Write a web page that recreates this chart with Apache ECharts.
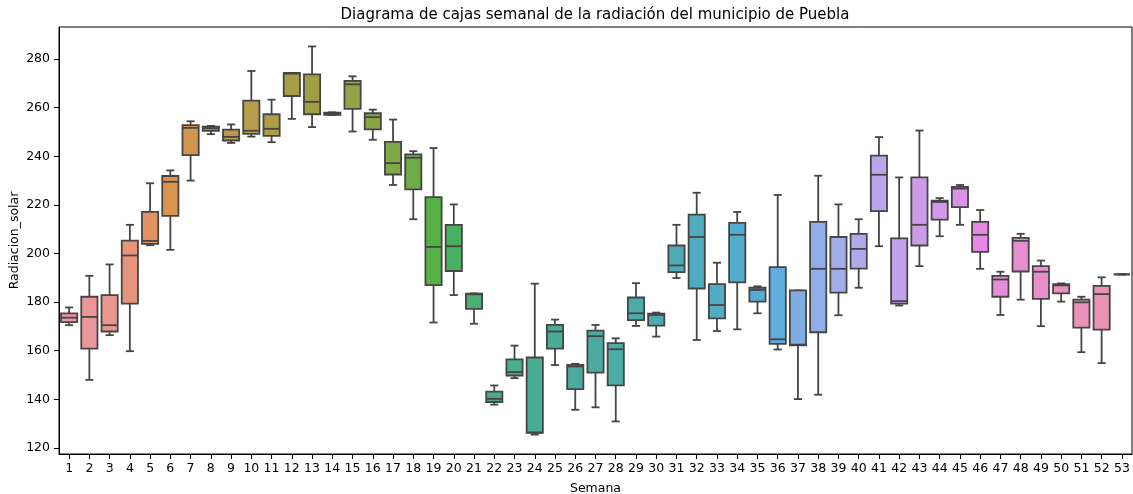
<!DOCTYPE html>
<html>
<head>
<meta charset="utf-8">
<script src="https://cdn.jsdelivr.net/npm/echarts@6/dist/echarts.min.js"></script>
<style>
html,body{margin:0;padding:0;background:#fff;}
#chart{width:1133px;height:494px;}
</style>
</head>
<body>
<div id="chart"></div>
<script>
// ---- Data ----
const weeks = ['1','2','3','4','5','6','7','8','9','10','11','12','13','14','15','16','17','18','19','20','21','22','23','24','25','26','27','28','29','30','31','32','33','34','35','36','37','38','39','40','41','42','43','44','45','46','47','48','49','50','51','52','53'];
const whiskerLow = [170.5,148.0,166.4,159.8,203.4,201.5,230.0,249.1,245.5,248.1,245.8,255.4,252.0,257.0,250.2,246.8,228.2,214.1,171.6,182.9,171.1,137.8,148.7,125.5,154.1,135.7,136.7,130.9,170.2,165.8,189.9,164.4,168.1,168.8,175.4,160.5,140.1,141.9,174.6,185.9,203.0,178.6,194.8,207.1,211.8,193.7,174.7,181.0,170.1,180.2,159.4,154.9,191.4];
const q1 = [171.8,160.9,167.9,179.4,204.0,215.5,240.5,250.5,246.5,249.2,248.4,264.8,257.3,257.1,259.5,251.1,232.5,226.4,187.0,192.8,177.2,138.9,149.8,126.2,160.9,144.2,151.0,145.7,172.6,170.3,192.3,185.6,173.3,188.1,180.2,162.8,162.2,167.6,183.9,193.8,217.4,179.4,203.3,213.9,219.1,200.7,182.2,192.6,181.3,183.6,169.5,168.7,191.4];
const median = [173.6,173.9,170.5,199.2,205.2,229.5,251.7,251.6,248.0,250.5,251.3,274.0,262.4,257.6,269.6,256.1,237.2,239.4,202.7,203.0,183.2,140.2,151.2,126.4,167.9,153.5,166.0,160.6,175.4,174.7,195.1,206.8,178.8,207.7,185.0,164.7,162.5,193.7,193.7,201.9,232.4,180.4,211.8,221.2,226.7,207.7,189.3,205.2,192.5,186.9,179.9,183.3,191.4];
const q3 = [175.4,182.2,182.9,205.3,217.1,231.9,252.8,252.2,251.0,262.9,257.3,274.3,273.7,258.0,271.0,257.7,245.9,240.8,223.2,211.8,183.5,143.2,156.4,157.2,170.6,154.2,168.3,163.1,181.9,175.2,203.3,216.0,187.4,212.6,185.9,194.4,184.8,213.0,206.8,208.1,240.3,206.2,231.3,221.7,227.4,213.0,190.8,206.4,194.8,187.4,181.0,186.7,191.4];
const whiskerHigh = [177.8,190.8,195.5,211.8,228.9,234.2,254.4,252.5,253.1,275.1,263.3,274.3,285.2,258.1,272.9,259.2,255.1,242.1,243.4,220.2,183.6,145.7,162.1,187.6,172.8,154.6,170.6,165.1,187.8,175.7,211.8,225.0,196.2,217.1,186.5,224.1,184.8,232.0,220.2,214.1,247.9,231.3,250.6,222.8,228.2,217.9,192.5,208.1,197.1,187.7,182.2,190.2,191.4];
const yTicks = [120,140,160,180,200,220,240,260,280];

// ---- seaborn-like husl palette (l=.7) desaturated by 0.75 ----
const M = [[3.2406,-1.5372,-0.4986],[-0.9689,1.8758,0.0415],[0.0557,-0.2040,1.0570]];
const refY=1.0, refU=0.19784, refV=0.46834, labE=0.008856, labK=903.3;
function maxChroma(L,H){
  const hr=H*Math.PI/180, sinH=Math.sin(hr), cosH=Math.cos(hr);
  const sub1=Math.pow(L+16,3)/1560896, sub2=sub1>labE?sub1:L/labK;
  let res=Infinity;
  for(const [m1,m2,m3] of M){
    const top=(0.99915*m1+1.05122*m2+1.14460*m3)*sub2;
    const rb=(0.86330*m3-0.17266*m2), lb=(0.12949*m3-0.38848*m1);
    const bottom=(rb*sinH+lb*cosH)*sub2;
    for(const t of [0,1]){
      const C=L*(top-1.05122*t)/(bottom+0.17266*sinH*t);
      if(C>0&&C<res)res=C;
    }
  }
  return res;
}
function huslToRgb(H,S,L){
  const C=maxChroma(L,H)/100*S;
  const hr=H*Math.PI/180, U=Math.cos(hr)*C, V=Math.sin(hr)*C;
  const vY = L>labK*labE ? refY*Math.pow((L+16)/116,3) : refY*L/labK;
  const vU=U/(13*L)+refU, vV=V/(13*L)+refV;
  const Y=vY*refY;
  const X=0-(9*Y*vU)/((vU-4)*vV-vU*vV);
  const Z=(9*Y-15*vV*Y-vV*X)/(3*vV);
  return M.map(r=>{
    let c=r[0]*X+r[1]*Y+r[2]*Z;
    c = c<=0.0031308 ? 12.92*c : 1.055*Math.pow(c,1/2.4)-0.055;
    return Math.min(1,Math.max(0,c));
  });
}
function rgbToHls(r,g,b){
  const mx=Math.max(r,g,b), mn=Math.min(r,g,b), l=(mx+mn)/2;
  if(mx===mn) return [0,l,0];
  const d=mx-mn, s = l<=0.5 ? d/(mx+mn) : d/(2-mx-mn);
  const rc=(mx-r)/d, gc=(mx-g)/d, bc=(mx-b)/d;
  let h = r===mx ? bc-gc : (g===mx ? 2+rc-bc : 4+gc-rc);
  h=((h/6)%1+1)%1;
  return [h,l,s];
}
function hlsToRgb(h,l,s){
  if(s===0) return [l,l,l];
  const m2 = l<=0.5 ? l*(1+s) : l+s-l*s, m1=2*l-m2;
  const v=(hue)=>{hue=((hue%1)+1)%1; if(hue<1/6) return m1+(m2-m1)*hue*6; if(hue<0.5) return m2; if(hue<2/3) return m1+(m2-m1)*(2/3-hue)*6; return m1;};
  return [v(h+1/3),v(h),v(h-1/3)];
}
const n = weeks.length;
const colorsRgb = [];
for(let i=0;i<n;i++){
  const h=((i/n)+0.01)%1*359;
  const rgb=huslToRgb(h,0.9*99,0.7*99);
  const [hh,ll,ss]=rgbToHls(...rgb);
  colorsRgb.push(hlsToRgb(hh,ll,ss*0.75));
}
const toHex=c=>'#'+c.map(v=>Math.round(v*255).toString(16).padStart(2,'0')).join('');
const boxColors = colorsRgb.map(toHex);
const lum = Math.min(...colorsRgb.map(c=>rgbToHls(...c)[1]))*0.6;
const GRAY = toHex([lum,lum,lum]);
const LW = 1.8;

const data = weeks.map((w,i)=>[i, whiskerLow[i], q1[i], median[i], q3[i], whiskerHigh[i]]);

const chart = echarts.init(document.getElementById('chart'), null, {renderer:'canvas'});
const FONT = 'DejaVu Sans';
chart.setOption({
  animation:false,
  backgroundColor:'#fff',
  textStyle:{fontFamily:FONT},
  grid:{left:59, right:1, top:27, bottom:40, show:true, borderColor:'#000', borderWidth:1, containLabel:false, outerBoundsMode:'none'},
  graphic:[{type:'text', x:595, y:15, style:{text:'Diagrama de cajas semanal de la radiación del municipio de Puebla', font:'15px "DejaVu Sans"', fill:'#000', textAlign:'center', textVerticalAlign:'middle'}}],
  xAxis:{
    type:'category', data:weeks, boundaryGap:true,
    name:'Semana', nameLocation:'middle', nameGap:28,
    nameTextStyle:{fontSize:12.5, color:'#000', fontFamily:FONT},
    axisLine:{show:true, lineStyle:{color:'#000', width:1}},
    axisTick:{show:true, alignWithLabel:true, length:5, lineStyle:{color:'#000'}},
    axisLabel:{interval:0, fontSize:12.5, color:'#000', margin:8, fontFamily:FONT},
    splitLine:{show:false}
  },
  yAxis:{
    type:'value', min:117.5, max:293.2,
    name:'Radiacion_solar', nameLocation:'middle', nameGap:38, nameMoveOverlap:false,
    nameTextStyle:{fontSize:12.5, color:'#000', fontFamily:FONT},
    axisLine:{show:true, lineStyle:{color:'#000', width:1}},
    axisTick:{show:true, length:5, lineStyle:{color:'#000'}, customValues:yTicks},
    axisLabel:{fontSize:12.5, color:'#000', margin:9, fontFamily:FONT, customValues:yTicks},
    splitLine:{show:false}
  },
  series:[{
    type:'custom',
    data:data,
    encode:{x:0, y:[1,2,3,4,5]},
    renderItem:function(params, api){
      const i=api.value(0);
      const pLo=api.coord([i,api.value(1)]);
      const pA=api.coord([i,api.value(2)]);
      const pM=api.coord([i,api.value(3)]);
      const pB=api.coord([i,api.value(4)]);
      const pHi=api.coord([i,api.value(5)]);
      const w=api.size([1,0])[0]*0.8;
      const x=pA[0];
      const st={stroke:GRAY, lineWidth:LW, lineCap:'butt'};
      return {type:'group', children:[
        {type:'line', shape:{x1:x,y1:pA[1],x2:x,y2:pLo[1]}, style:st},
        {type:'line', shape:{x1:x,y1:pB[1],x2:x,y2:pHi[1]}, style:st},
        {type:'line', shape:{x1:x-w/4,y1:pLo[1],x2:x+w/4,y2:pLo[1]}, style:st},
        {type:'line', shape:{x1:x-w/4,y1:pHi[1],x2:x+w/4,y2:pHi[1]}, style:st},
        {type:'rect', shape:{x:x-w/2,y:pB[1],width:w,height:pA[1]-pB[1]}, style:{fill:boxColors[i], stroke:GRAY, lineWidth:LW}},
        {type:'line', shape:{x1:x-w/2,y1:pM[1],x2:x+w/2,y2:pM[1]}, style:st}
      ]};
    }
  }]
});
</script>
</body>
</html>
